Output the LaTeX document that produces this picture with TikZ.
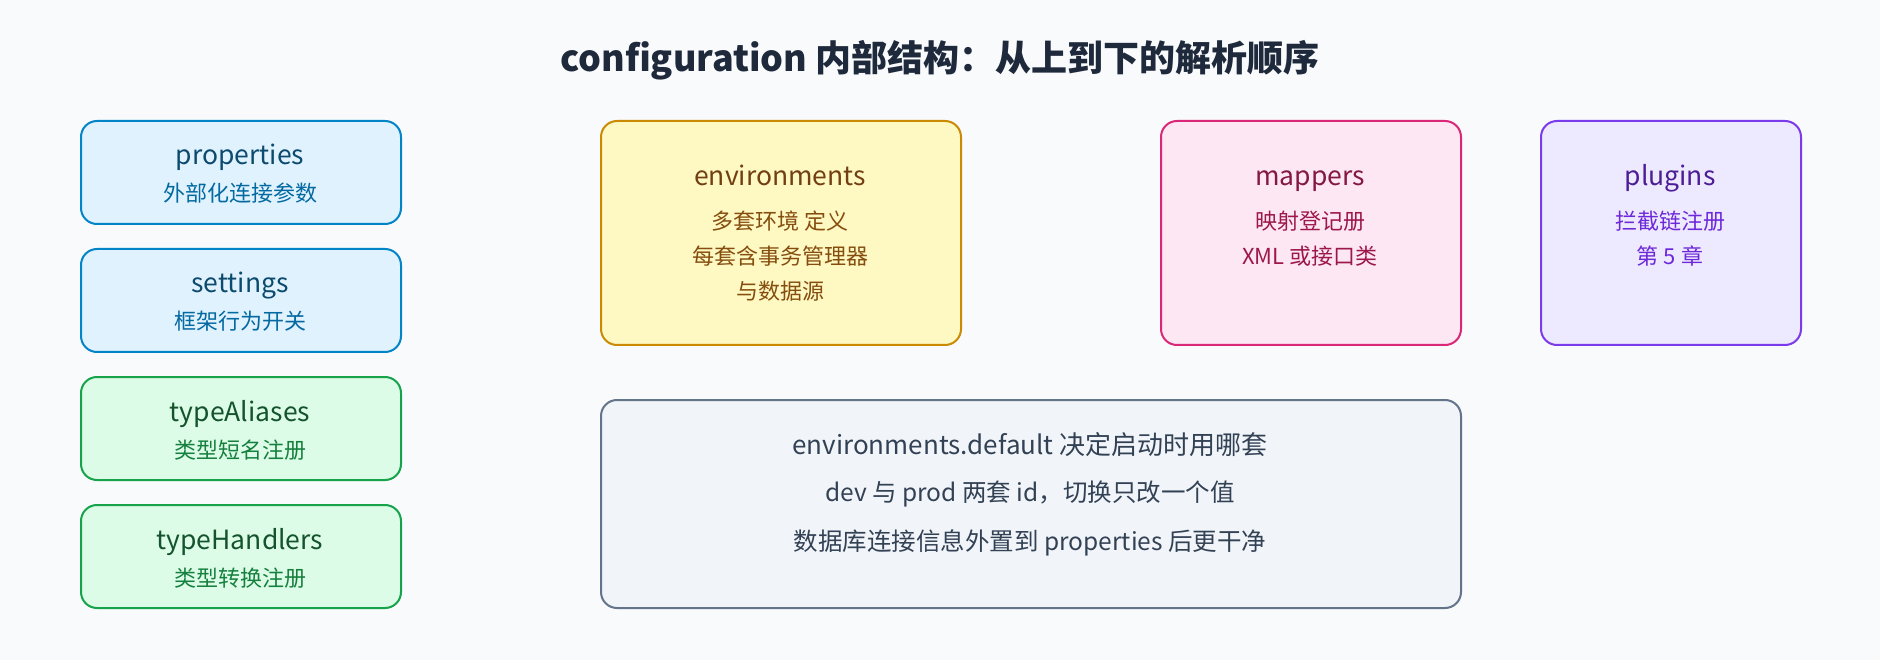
\documentclass[tikz,border=0pt]{standalone}
\usepackage{fontspec}
\setmainfont{Noto Sans CJK SC}
\definecolor{bgc}{HTML}{F8FAFC}
\definecolor{skyF}{HTML}{E0F2FE}\definecolor{skyD}{HTML}{0284C7}\definecolor{skyH}{HTML}{0C4A6E}\definecolor{skyS}{HTML}{0369A1}
\definecolor{grnF}{HTML}{DCFCE7}\definecolor{grnD}{HTML}{16A34A}\definecolor{grnH}{HTML}{14532D}\definecolor{grnS}{HTML}{15803D}
\definecolor{ylwF}{HTML}{FEF9C3}\definecolor{ylwD}{HTML}{CA8A04}\definecolor{ylwH}{HTML}{713F12}\definecolor{ylwS}{HTML}{854D0E}
\definecolor{pnkF}{HTML}{FCE7F3}\definecolor{pnkD}{HTML}{DB2777}\definecolor{pnkH}{HTML}{831843}\definecolor{pnkS}{HTML}{9D174D}
\definecolor{prpF}{HTML}{EDE9FE}\definecolor{prpD}{HTML}{7C3AED}\definecolor{prpH}{HTML}{4C1D95}\definecolor{prpS}{HTML}{6D28D9}
\definecolor{slF}{HTML}{F1F5F9}\definecolor{slD}{HTML}{64748B}\definecolor{slT}{HTML}{334155}
\definecolor{ttl}{HTML}{1E293B}
\begin{document}
\begin{tikzpicture}[x=1pt,y=-1pt,
  box/.style={draw, line width=2pt, rounded corners=16pt, anchor=north west, inner sep=0pt},
  hd/.style={anchor=base, inner sep=0pt, font=\fontsize{26.5}{31}\selectfont},
  sb/.style={anchor=base, inner sep=0pt, font=\fontsize{22}{26}\selectfont},
  nl/.style={anchor=base, inner sep=0pt, text=slT, font=\fontsize{24.5}{29}\selectfont},
  sky/.style={fill=skyF, draw=skyD},
  grn/.style={fill=grnF, draw=grnD},
  ylw/.style={fill=ylwF, draw=ylwD},
  pnk/.style={fill=pnkF, draw=pnkD},
  prp/.style={fill=prpF, draw=prpD},
  slt/.style={fill=slF, draw=slD}]
\fill[bgc] (0,0) rectangle (1880,660);
\useasboundingbox (0,0) rectangle (1880,660);
% title
\node[anchor=base, inner sep=0pt, text=ttl, font=\fontsize{36}{42}\selectfont\bfseries] (title) at (940,72) {configuration 内部结构：从上到下的解析顺序};
% left column
\node[box, sky, minimum width=320pt, minimum height=103pt] (props) at (80,120) {};
\node[hd, text=skyH] (propsH) at (240,165) {properties};
\node[sb, text=skyS] (propsS) at (240,202) {外部化连接参数};
\node[box, sky, minimum width=320pt, minimum height=103pt] (sets) at (80,248) {};
\node[hd, text=skyH] (setsH) at (240,293) {settings};
\node[sb, text=skyS] (setsS) at (240,330) {框架行为开关};
\node[box, grn, minimum width=320pt, minimum height=103pt] (alias) at (80,376) {};
\node[hd, text=grnH] (aliasH) at (240,421) {typeAliases};
\node[sb, text=grnS] (aliasS) at (240,458) {类型短名注册};
\node[box, grn, minimum width=320pt, minimum height=103pt] (hand) at (80,504) {};
\node[hd, text=grnH] (handH) at (240,549) {typeHandlers};
\node[sb, text=grnS] (handS) at (240,586) {类型转换注册};
% top row
\node[box, ylw, minimum width=360pt, minimum height=224pt] (env) at (600,120) {};
\node[hd, text=ylwH] (envH) at (780,186) {environments};
\node[sb, text=ylwS] (envS1) at (780,230) {多套环境 定义};
\node[sb, text=ylwS] (envS2) at (780,265) {每套含事务管理器};
\node[sb, text=ylwS] (envS3) at (780,300) {与数据源};
\node[box, pnk, minimum width=300pt, minimum height=224pt] (map) at (1160,120) {};
\node[hd, text=pnkH] (mapH) at (1310,186) {mappers};
\node[sb, text=pnkS] (mapS1) at (1310,230) {映射登记册};
\node[sb, text=pnkS] (mapS2) at (1310,265) {XML 或接口类};
\node[box, prp, minimum width=260pt, minimum height=224pt] (plug) at (1540,120) {};
\node[hd, text=prpH] (plugH) at (1670,186) {plugins};
\node[sb, text=prpS] (plugS1) at (1670,230) {拦截链注册};
\node[sb, text=prpS] (plugS2) at (1670,265) {第 5 章};
% note
\node[box, slt, minimum width=860pt, minimum height=208pt] (note) at (600,399) {};
\node[nl, font=\fontsize{26}{31}\selectfont] (note1) at (1030,454) {environments.default 决定启动时用哪套};
\node[nl] (note2) at (1030,501) {dev 与 prod 两套 id，切换只改一个值};
\node[nl] (note3) at (1030,550) {数据库连接信息外置到 properties 后更干净};
\end{tikzpicture}
\end{document}
